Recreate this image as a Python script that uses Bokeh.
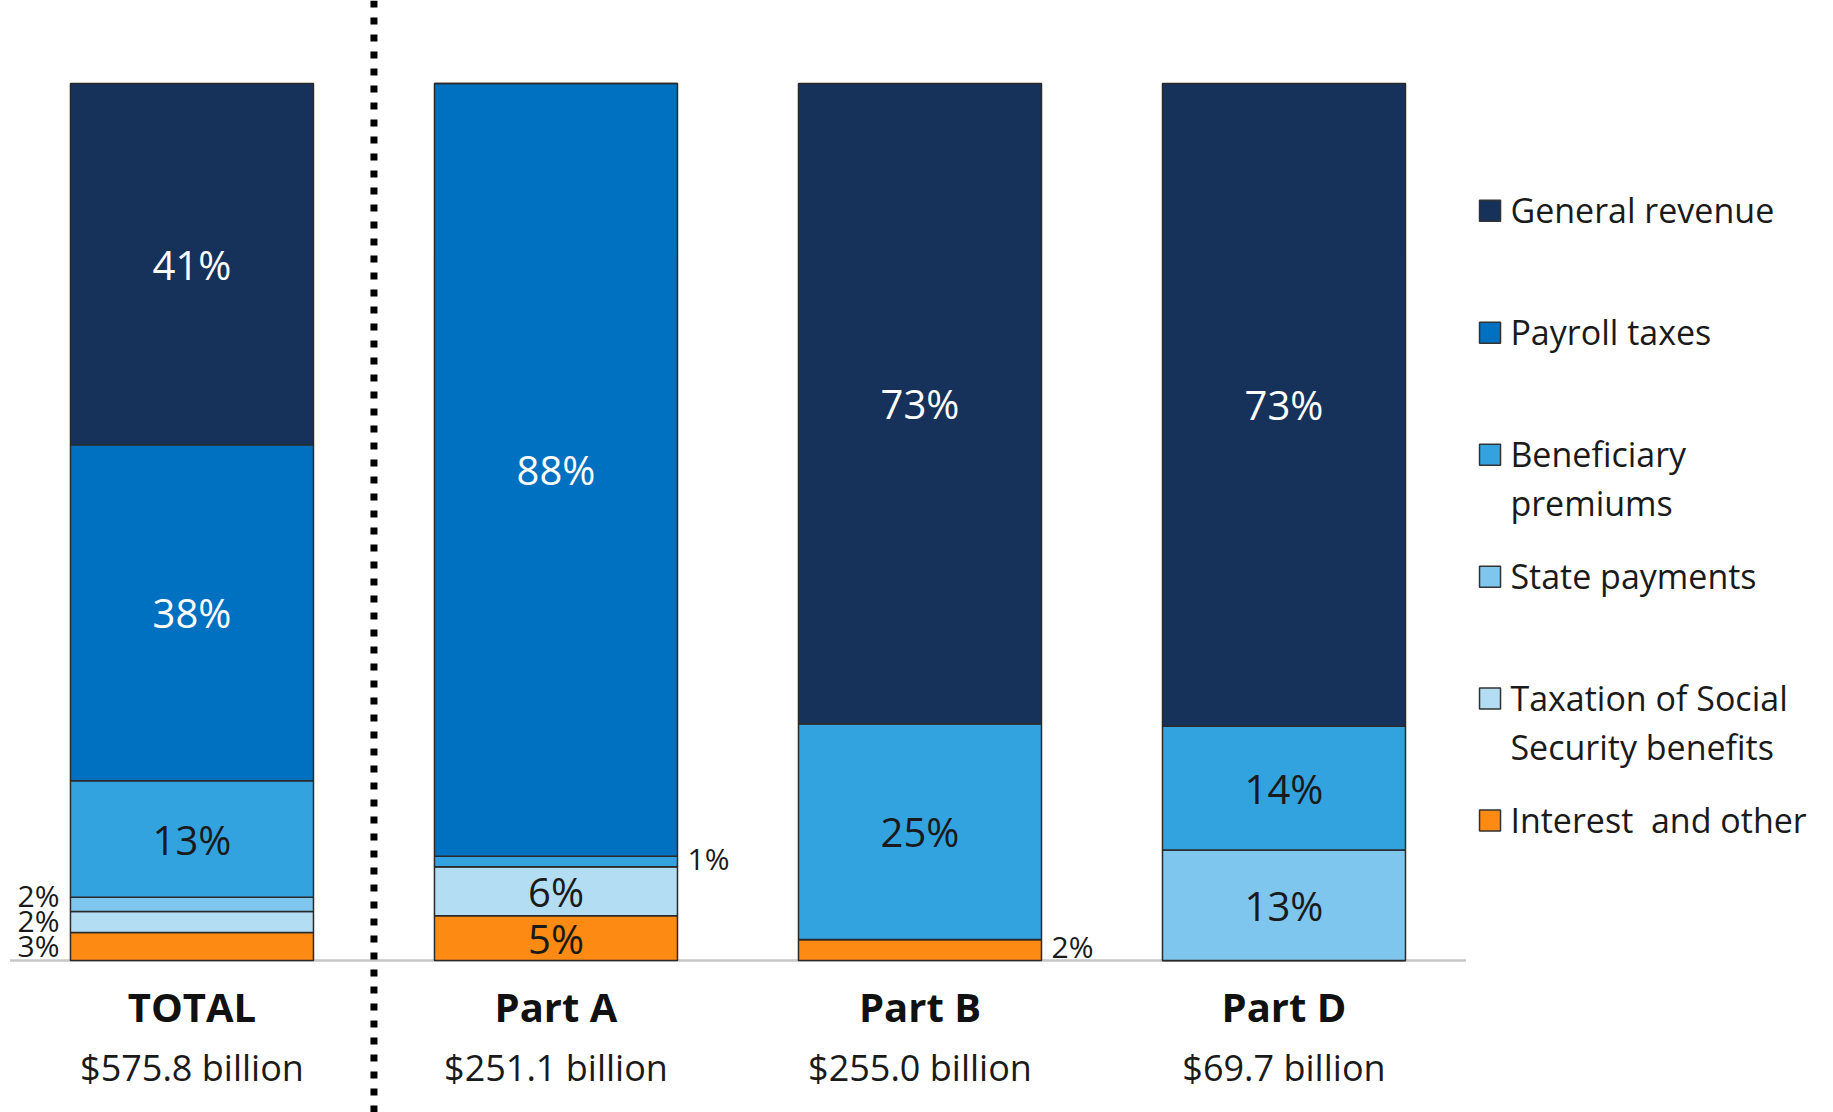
from bokeh.plotting import figure
from bokeh.models import ColumnDataSource, Range1d, Span
from bokeh.embed import file_html
from bokeh.resources import INLINE
from bokeh.core.properties import value

# Programs and their total income
parts = ["TOTAL", "Part A", "Part B", "Part D"]
totals = ["$575.8 billion", "$251.1 billion", "$255.0 billion", "$69.7 billion"]

# Share of each program's income by source, percent (stacked bottom to top)
interest = [3.2, 5.1, 2.4, 0.0]
taxation_ss = [2.4, 5.6, 0.0, 0.0]
state_payments = [1.6, 0.0, 0.0, 12.6]
premiums = [13.3, 1.2, 24.6, 14.1]
payroll = [38.3, 88.1, 0.0, 0.0]
general = [41.2, 0.0, 73.0, 73.3]

stack_keys = ["interest", "taxation_ss", "state_payments", "premiums", "payroll", "general"]
stack_labels = ["Interest\u00a0 and other", "Taxation of Social\nSecurity benefits", "State payments",
                "Beneficiary\npremiums", "Payroll taxes", "General revenue"]
stack_colors = ["#FD8A13", "#B2DDF3", "#7EC6EE", "#33A3E0", "#0070C0", "#16315A"]
label_colors = ["#1a1a1a", "#1a1a1a", "#1a1a1a", "#1a1a1a", "white", "white"]

FONT = value("Open Sans")
BAR_W = 0.6676

xs = list(range(len(parts)))
data = dict(x=xs, interest=interest, taxation_ss=taxation_ss, state_payments=state_payments,
            premiums=premiums, payroll=payroll, general=general)
src = ColumnDataSource(data)

p = figure(width=1833, height=1112, x_range=Range1d(-0.526, 4.5096), y_range=Range1d(-17.33, 109.46),
           output_backend="svg", toolbar_location=None, min_border=0,
           x_axis_location=None, y_axis_location=None)
p.grid.visible = False
p.outline_line_color = None
p.background_fill_color = "white"

# pixels per data unit on the y axis (used for label nudging)
px_per_y = 1112 / (109.46 + 17.33)

# baseline under the bars
p.segment(x0=[-0.5], y0=[0], x1=[len(parts) - 0.5], y1=[0], line_color="#C6C6C6", line_width=2.5)

p.vbar_stack(stack_keys, x="x", width=BAR_W, source=src,
             fill_color=stack_colors, line_color="#2a2a2a", line_width=1.5)

# dotted separator between TOTAL and the parts
p.add_layout(Span(location=0.5, dimension="height", line_color="black",
                  line_width=7, line_dash="7 10"))

# percentage labels
inside = dict(x=[], y=[], text=[], color=[])
left = dict(x=[], y=[], text=[], yoff=[])
right = dict(x=[], y=[], text=[])
series = [data[k] for k in stack_keys]
for i in xs:
    base = 0.0
    last_left_px = None
    for s, vals in enumerate(series):
        v = vals[i]
        if v <= 0:
            continue
        mid = base + v / 2
        txt = f"{round(v)}%"
        if v >= 4:
            inside["x"].append(i); inside["y"].append(mid)
            inside["text"].append(txt); inside["color"].append(label_colors[s])
        elif i == 0:
            # small TOTAL slices are labelled on the left, kept from overlapping
            py = -mid * px_per_y
            if last_left_px is not None and last_left_px - py < 25:
                py = last_left_px - 25
            last_left_px = py
            left["x"].append(i - BAR_W / 2); left["y"].append(0)
            left["text"].append(txt); left["yoff"].append(py - 1)
        else:
            right["x"].append(i + BAR_W / 2); right["y"].append(mid); right["text"].append(txt)
        base += v

p.text(x="x", y="y", text="text", text_color="color", source=ColumnDataSource(inside),
       text_font=FONT, text_font_size="40px", text_align="center", text_baseline="middle")
p.text(x="x", y="y", text="text", y_offset="yoff", source=ColumnDataSource(left),
       text_font=FONT, text_font_size="30px", text_align="right", text_baseline="middle",
       text_color="#1a1a1a", x_offset=-11)
p.text(x="x", y="y", text="text", source=ColumnDataSource(right),
       text_font=FONT, text_font_size="30px", text_align="left", text_baseline="middle",
       text_color="#1a1a1a", x_offset=10, y_offset=-3)

# category names and totals under the baseline
p.text(x=xs, y=[0] * len(xs), text=parts, y_offset=46, text_font=FONT, text_font_size="40px",
       text_font_style="bold", text_align="center", text_baseline="middle", text_color="#111111")
p.text(x=xs, y=[0] * len(xs), text=totals, y_offset=107, text_font=FONT, text_font_size="36px",
       text_align="center", text_baseline="middle", text_color="#1a1a1a")

# legend, top entry first
leg_x = 3.566
leg_top = 85.5
leg_step = 13.91
leg_sq = dict(x=[], y=[], color=[])
leg_txt = dict(x=[], y=[], text=[], yoff=[])
for r, s in enumerate(reversed(range(len(stack_keys)))):
    yy = leg_top - r * leg_step
    leg_sq["x"].append(leg_x); leg_sq["y"].append(yy); leg_sq["color"].append(stack_colors[s])
    for ln, line in enumerate(stack_labels[s].split("\n")):
        leg_txt["x"].append(leg_x + 0.056); leg_txt["y"].append(yy)
        leg_txt["text"].append(line); leg_txt["yoff"].append(ln * 49 - 1)

p.scatter(x="x", y="y", marker="square", size=21, fill_color="color", line_color="#333333",
          line_width=1.5, source=ColumnDataSource(leg_sq))
p.text(x="x", y="y", text="text", y_offset="yoff", source=ColumnDataSource(leg_txt),
       text_font=FONT, text_font_size="34px", text_align="left", text_baseline="middle",
       text_color="#1a1a1a")

open("out.html", "w").write(file_html(p, INLINE))
